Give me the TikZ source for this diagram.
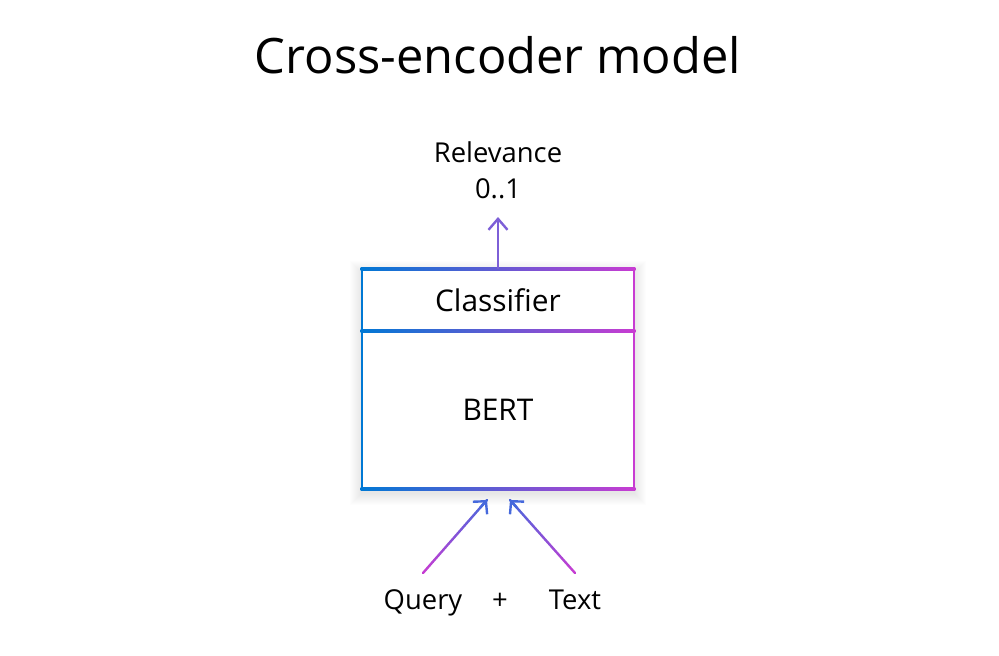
\documentclass[tikz,border=0pt]{standalone}
\usepackage{fontspec}
\setmainfont{Open Sans}
\usetikzlibrary{arrows.meta,calc}
\definecolor{cblue}{RGB}{0,120,212}
\definecolor{cmag}{RGB}{200,60,210}
\definecolor{ctip}{RGB}{70,105,220}
\definecolor{cpurp}{RGB}{125,95,215}
\newcommand\gradarrow[4]{%
  \foreach \i in {0,...,19} {%
    \pgfmathsetmacro\ta{\i/20}%
    \pgfmathsetmacro\tb{(\i+1)/20}%
    \pgfmathtruncatemacro\pc{100*(\i+0.5)/20}%
    \draw[conn, color=#4!\pc!#3] ($(#1)!\ta!(#2)$) -- ($(#1)!\tb!(#2)$);
  }%
  \draw[conn, color=#4, -{Straight Barb[length=9bp,width=19bp]}] ($(#1)!0.9!(#2)$) -- (#2);%
}
\begin{document}
\begin{tikzpicture}[x=1bp,y=-1bp,
  lbl/.style={font=\fontsize{27.5}{33}\selectfont, inner sep=0},
  boxlbl/.style={font=\fontsize{30}{36}\selectfont, inner sep=0},
  conn/.style={line width=2.4bp, line cap=round}]
\useasboundingbox (0,0) rectangle (999,656);
% title
\node[font=\fontsize{49}{58}\selectfont, inner sep=0] (title) at (498,55) {Cross-encoder model};
% shadow
\foreach \k in {1,...,12} {
  \fill[black, opacity=0.007] (362-\k,269-\k+4) rectangle (634+\k,489+\k+4);
}
% box
\node[fill=white, minimum width=272bp, minimum height=220bp, inner sep=0] (box) at (498,379) {};
\shade[left color=cblue, right color=cmag] (360.6,267.6) rectangle (635.4,270.4);
\shade[left color=cblue, right color=cmag] (360.6,487.6) rectangle (635.4,490.4);
\shade[left color=cblue, right color=cmag] (360.6,329.6) rectangle (635.4,332.4);
\fill[cblue] (360.6,267.6) rectangle (363.4,490.4);
\fill[cmag] (632.6,267.6) rectangle (635.4,490.4);
\node[boxlbl] (cls) at (498,300) {Classifier};
\node[boxlbl] (bert) at (498,410) {BERT};
% output
\node[lbl, align=center, font=\fontsize{27.5}{36}\selectfont] (rel) at (498,170) {Relevance\\0..1};
\coordinate (upS) at (498,268);
\coordinate (upE) at (498,217);
\draw[conn, cpurp, -{Straight Barb[length=11bp,width=19bp]}] (upS) -- (upE);
% inputs
\node[lbl, anchor=base] (q) at (423,609) {Query};
\node[lbl, anchor=base] (plus) at (500,609) {+};
\node[lbl, anchor=base] (t) at (575,609) {Text};
\coordinate (qS) at (423,573);
\coordinate (qE) at (487,500);
\coordinate (tS) at (575,573);
\coordinate (tE) at (510,500);
\gradarrow{qS}{qE}{cmag}{ctip}
\gradarrow{tS}{tE}{cmag}{ctip}
\end{tikzpicture}
\end{document}
